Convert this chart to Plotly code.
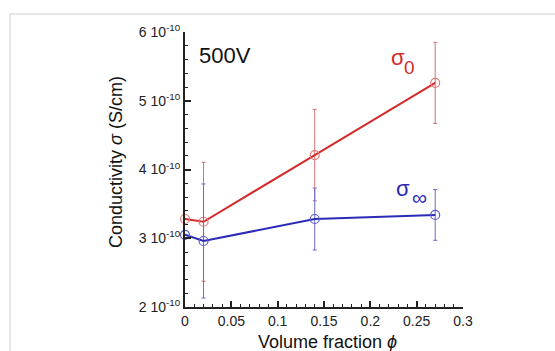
import plotly.graph_objects as go

# Data (values in S/cm)
phi = [0.0, 0.02, 0.14, 0.27]
sigma0 = [3.28e-10, 3.24e-10, 4.21e-10, 5.26e-10]
sigma0_err = [None, 0.865e-10, 0.665e-10, 0.59e-10]
sigma_inf = [3.05e-10, 2.96e-10, 3.28e-10, 3.34e-10]
sigma_inf_err = [None, 0.83e-10, 0.45e-10, 0.37e-10]

y_tickvals = [2e-10, 3e-10, 4e-10, 5e-10, 6e-10]
y_ticktext = ["2 10<sup>-10</sup>", "3 10<sup>-10</sup>", "4 10<sup>-10</sup>",
              "5 10<sup>-10</sup>", "6 10<sup>-10</sup>"]

W, H = 555, 351
L, R, T, B = 185, 92, 32, 44
pw, ph = W - L - R, H - T - B

def px(x):
    return (x - L) / pw

def py(y):
    return (H - B - y) / ph

fig = go.Figure()

fig.add_trace(go.Scatter(
    x=phi, y=sigma0, mode="lines+markers",
    line=dict(color="#d42a2a", width=2),
    marker=dict(symbol="circle-open", size=9, color="#e07a7a", line=dict(width=1.2)),
    error_y=dict(type="data", array=sigma0_err, visible=True, color="#d67272",
                 thickness=1, width=2),
    cliponaxis=False, showlegend=False))

fig.add_trace(go.Scatter(
    x=phi, y=sigma_inf, mode="lines+markers",
    line=dict(color="#2b2bb8", width=2),
    marker=dict(symbol="circle-open", size=9, color="#5a5acc", line=dict(width=1.2)),
    error_y=dict(type="data", array=sigma_inf_err, visible=True, color="#6a6ad2",
                 thickness=1, width=2),
    cliponaxis=False, showlegend=False))

font_family = "Liberation Sans, Arial, sans-serif"

def ann(text, x, y, size, color, **kw):
    d = dict(text=text, x=px(x), y=py(y), xref="paper", yref="paper",
             xanchor="center", yanchor="middle", showarrow=False,
             font=dict(size=size, color=color))
    d.update(kw)
    return d

fig.update_layout(
    width=W, height=H,
    margin=dict(l=L, r=R, t=T, b=B, autoexpand=False),
    paper_bgcolor="white", plot_bgcolor="white",
    font=dict(family=font_family, color="#222"),
    xaxis=dict(range=[0, 0.3], dtick=0.05, tick0=0, showgrid=False, zeroline=False,
               showline=True, linecolor="#222", linewidth=2,
               ticks="inside", ticklen=6, tickwidth=1.5, tickcolor="#222",
               tickfont=dict(size=14, color="#222"),
               minor=dict(dtick=0.01, tick0=0, ticks="inside", ticklen=3,
                          tickwidth=1.2, tickcolor="#222", showgrid=False)),
    yaxis=dict(range=[2e-10, 6e-10], tickmode="array", tickvals=y_tickvals,
               ticktext=y_ticktext, showgrid=False, zeroline=False,
               showline=True, linecolor="#222", linewidth=2,
               ticks="inside", ticklen=6, tickwidth=1.5, tickcolor="#222",
               tickfont=dict(size=14, color="#222"),
               minor=dict(dtick=0.2e-10, tick0=2e-10, ticks="inside", ticklen=3,
                          tickwidth=1.2, tickcolor="#222", showgrid=False)),
    shapes=[dict(type="rect", xref="paper", yref="paper",
                 x0=px(10), x1=px(600), y0=py(400), y1=py(14),
                 line=dict(color="#cfcfcf", width=1), layer="below")],
    annotations=[
        ann("500V", 225, 55, 22, "#111"),
        ann("σ", 398, 57, 22, "#d42a2a"),
        ann("0", 409.5, 67, 19, "#d42a2a"),
        ann("σ", 403, 188, 22, "#2b2bb8"),
        ann("∞", 419.5, 197, 21, "#2b2bb8"),
        ann("Conductivity <i>σ</i> (S/cm)", 116, 162, 18, "#111", textangle=-90),
        ann("Volume fraction <i>ϕ</i>", 327, 342, 18, "#111"),
    ],
)

fig.write_html("out.html", post_script="document.body.style.margin='0px';",
               config={"displayModeBar": False})
